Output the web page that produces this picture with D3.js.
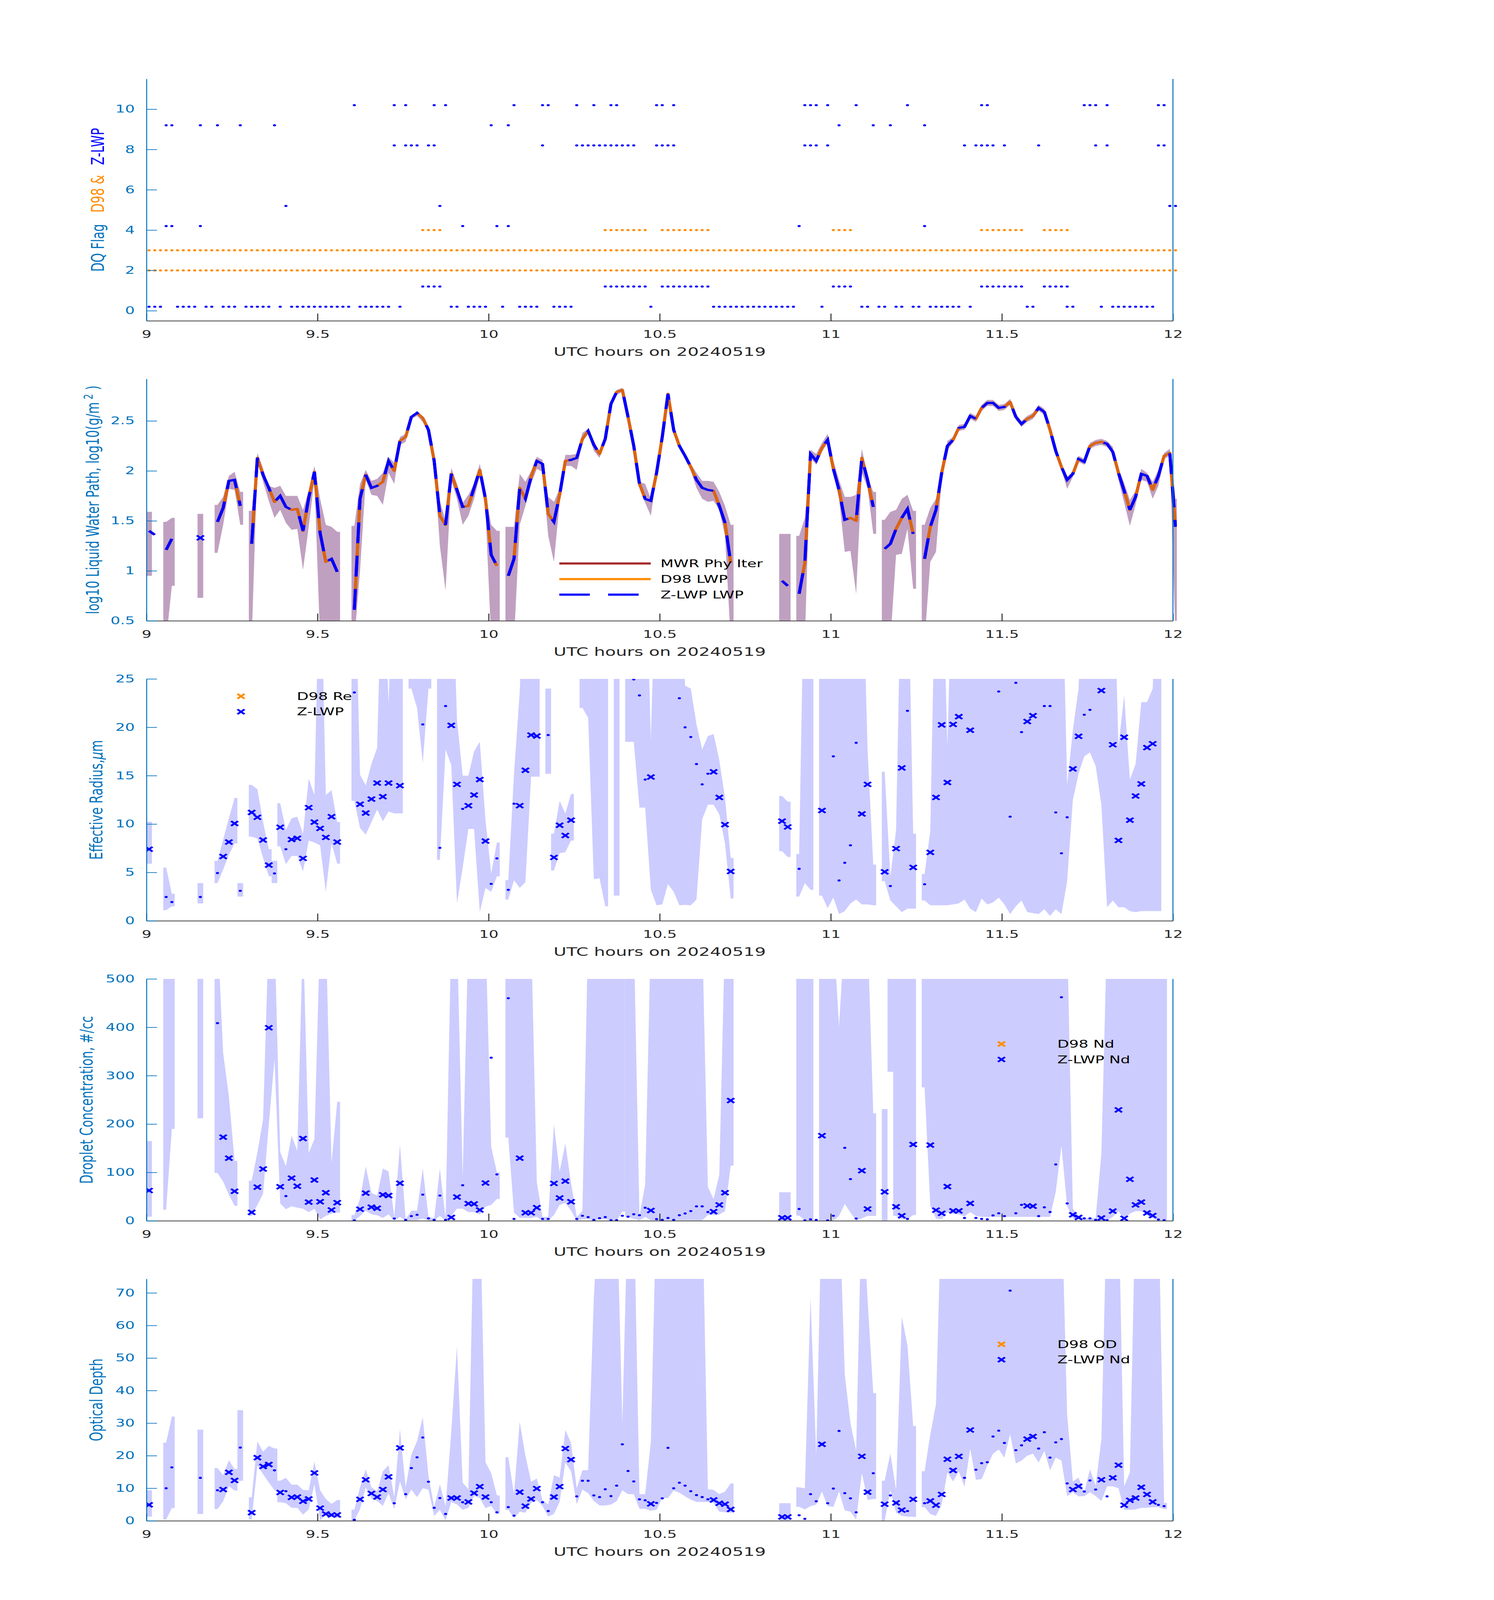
<!DOCTYPE html>
<html lang="en">
<head>
<meta charset="utf-8">
<title>Z-LWP retrievals | 20240519</title>
<script src="https://cdn.jsdelivr.net/npm/d3@7"></script>
<style>
  html, body { margin: 0; padding: 0; background: #fff; overflow: hidden; }
  svg { display: block; }
  text { font-family: "DejaVu Sans", sans-serif; }
</style>
</head>
<body>
<svg id="fig" width="3825" height="6000" viewBox="0 0 3825 6000" preserveAspectRatio="none"></svg>
<script>
// one sample per minute, 9:00 - 12:00 UTC
var nMin = 181, tStart = 9, sampleOffset = 0.45;

/////////////////////
// Panel 1: data quality flags (minute index lists)
var zlwpFlags = [
  {level: 0.2, idx: [0,1,2,5,6,7,8,10,11,13,14,15,17,18,19,20,21,23,25,26,27,28,29,30,31,32,33,34,35,37,38,39,40,41,42,44,
    53,54,56,57,58,59,62,65,66,67,68,71,72,73,74,88,99,100,101,102,103,104,105,106,107,108,109,110,111,112,113,118,
    125,126,128,129,131,132,134,135,137,138,139,140,141,142,144,154,155,161,162,167,169,170,171,172,173,174,175,176]},
  {level: 1.2, idx: [48,49,50,51,80,81,82,83,84,85,86,87,90,91,92,93,94,95,96,97,98,120,121,122,123,
    146,147,148,149,150,151,152,153,157,158,159,160,161]},
  {level: 4.2, idx: [3,4,9,55,61,63,114,136]},
  {level: 5.2, idx: [24,51,179,180]},
  {level: 8.2, idx: [43,45,46,47,49,50,69,75,76,77,78,79,80,81,82,83,84,85,89,90,91,92,115,116,117,119,
    143,145,146,147,148,150,156,166,168,177,178]},
  {level: 9.2, idx: [3,4,9,12,16,22,60,63,121,127,130,136]},
  {level: 10.2, idx: [36,43,45,50,52,64,69,70,75,78,81,82,89,90,92,115,116,117,119,124,133,146,147,164,165,166,168,177,178]}
];
var d98Flags = [
  {level: 2, idx: d3.range(nMin)},
  {level: 3, idx: d3.range(nMin)},
  {level: 4, idx: [48,49,50,51,80,81,82,83,84,85,86,87,90,91,92,93,94,95,96,97,98,120,121,122,123,
    146,147,148,149,150,151,152,153,157,158,159,160,161]}
];

/////////////////////
// Panel 2: log10 LWP  [minute, value, band hi, band lo]
var lwpData = [
  [0,1.40,1.59,0.95],[1,1.36,null,null],[3,1.21,1.49,0.30],[4,1.32,1.53,0.85],[9,1.33,1.57,0.73],
  [12,1.49,1.66,1.18],[13,1.63,1.74,1.46],[14,1.90,1.95,1.82],[15,1.91,1.99,1.81],[16,1.65,1.79,1.46],
  [18,1.27,1.60,0.30],[19,2.13,2.18,2.10],[20,1.96,2.02,1.89],[21,1.83,1.85,1.70],[22,1.69,1.83,1.53],
  [23,1.75,1.85,1.61],[24,1.64,1.75,1.48],[25,1.61,1.75,1.41],[26,1.62,1.75,1.42],[27,1.40,1.61,1.01],
  [28,1.73,1.80,1.44],[29,1.99,2.05,1.91],[30,1.38,1.72,0.30],[31,1.09,1.46,0.30],[32,1.12,1.44,0.30],
  [33,0.99,1.39,0.30],
  [36,0.61,1.45,0.30],[37,1.72,1.87,1.00],[38,1.96,2.01,1.91],[39,1.83,1.90,1.76],[40,1.85,1.92,1.75],
  [41,1.89,1.98,1.66],[42,2.10,2.14,1.98],[43,2.00,2.08,1.87],[44,2.30,2.34,2.26],[45,2.34,2.37,2.29],
  [46,2.54,2.55,2.52],[47,2.58,2.60,2.55],[48,2.53,2.54,2.49],[49,2.41,2.43,2.39],[50,2.10,2.11,2.06],
  [51,1.55,1.70,1.25],[52,1.46,1.50,0.80],[53,1.97,2.03,1.91],[54,1.81,1.87,1.72],[55,1.64,1.68,1.46],
  [56,1.65,1.76,1.55],[57,1.83,1.87,1.72],[58,2.01,2.07,1.95],[59,1.72,1.78,1.61],[60,1.16,1.46,0.30],
  [61,1.05,1.40,0.30],
  [63,0.95,1.44,0.30],[64,1.12,1.44,0.30],[65,1.83,1.97,1.46],[66,1.72,1.89,1.65],[67,1.94,2.00,1.87],
  [68,2.10,2.14,2.02],[69,2.07,2.11,1.99],[70,1.57,1.74,1.35],[71,1.49,1.69,1.09],[72,1.76,1.82,1.68],
  [73,2.10,2.16,2.05],[74,2.11,2.16,2.05],[75,2.13,2.17,2.01],[76,2.32,2.38,2.29],[77,2.40,2.42,2.37],
  [78,2.26,2.30,2.20],[79,2.17,2.19,2.13],[80,2.32,2.35,2.29],[81,2.67,2.70,2.64],[82,2.79,2.81,2.76],
  [83,2.81,2.83,2.79],[84,2.54,2.57,2.51],[85,2.25,2.28,2.21],[86,1.87,1.89,1.83],[87,1.72,1.87,1.68],
  [88,1.70,1.72,1.55],[89,1.98,2.01,1.95],[90,2.34,2.37,2.31],[91,2.77,2.80,2.74],[92,2.41,2.44,2.38],
  [93,2.25,2.28,2.22],[94,2.15,2.18,2.12],[95,2.04,2.07,2.00],[96,1.91,1.98,1.83],[97,1.83,1.90,1.72],
  [98,1.81,1.90,1.69],[99,1.80,1.89,1.70],[100,1.65,1.79,1.61],[101,1.48,1.65,1.35],[102,1.08,1.46,0.30],
  [111,0.90,1.37,0.30],[112,0.85,1.37,0.30],
  [114,0.77,1.35,0.30],[115,1.08,1.53,0.30],[116,2.17,2.21,2.13],[117,2.10,2.17,2.06],[118,2.23,2.28,2.19],
  [119,2.31,2.37,2.28],[120,2.02,2.10,1.98],[121,1.81,1.91,1.72],[122,1.51,1.74,1.19],[123,1.53,1.74,1.20],
  [124,1.50,1.76,0.77],[125,2.13,2.22,1.98],[126,1.91,1.95,1.83],[127,1.64,1.79,1.37],
  [129,1.22,1.51,0.30],[130,1.27,1.59,0.30],[131,1.42,1.61,1.16],[132,1.53,1.72,1.17],[133,1.62,1.76,1.42],
  [134,1.37,1.60,0.82],
  [136,1.12,1.46,0.30],[137,1.44,1.63,1.09],[138,1.61,1.72,1.19],[139,1.98,2.00,1.91],[140,2.25,2.30,2.21],
  [141,2.31,2.34,2.28],[142,2.43,2.46,2.40],[143,2.44,2.47,2.41],[144,2.55,2.58,2.52],[145,2.52,2.55,2.49],
  [146,2.63,2.66,2.60],[147,2.68,2.71,2.65],[148,2.68,2.71,2.65],[149,2.63,2.66,2.60],[150,2.64,2.67,2.61],
  [151,2.69,2.72,2.66],[152,2.54,2.57,2.51],[153,2.47,2.50,2.44],[154,2.52,2.55,2.49],[155,2.55,2.58,2.52],
  [156,2.63,2.66,2.60],[157,2.59,2.62,2.56],[158,2.41,2.44,2.38],[159,2.20,2.23,2.17],[160,2.04,2.07,2.01],
  [161,1.91,1.94,1.82],[162,1.97,2.00,1.94],[163,2.12,2.15,2.09],[164,2.09,2.12,2.06],[165,2.25,2.28,2.22],
  [166,2.28,2.31,2.25],[167,2.29,2.32,2.26],[168,2.27,2.30,2.24],[169,2.19,2.24,2.17],[170,1.98,2.02,1.91],
  [171,1.80,1.88,1.68],[172,1.61,1.71,1.45],[173,1.74,1.80,1.66],[174,1.97,2.02,1.91],[175,1.95,1.98,1.89],
  [176,1.81,1.89,1.72],[177,1.95,2.01,1.85],[178,2.15,2.18,2.12],[179,2.18,2.22,2.15],[180,1.44,1.72,0.30]
];

// minutes where Z-LWP retrieval is good (drawn with x), others drawn as dots
var goodIdx = [0,13,14,15,18,19,20,21,23,25,26,27,28,29,30,31,32,33,37,38,39,40,41,42,44,53,54,56,57,58,59,
  65,66,67,68,71,72,73,74,88,99,100,101,102,111,112,118,125,126,129,131,132,134,137,138,139,140,141,142,144,
  154,155,162,163,167,169,170,171,172,173,174,175,176];

/////////////////////
// Panel 3: effective radius (um)
var reVals = [[0,7.4],[3,2.46],[4,1.94],[9,2.46],[12,4.94],[13,6.65],[14,8.14],[15,10.06],[16,3.10],[18,11.2],
  [19,10.7],[20,8.35],[21,5.76],[22,4.9],[23,9.67],[24,7.4],[25,8.4],[26,8.53],[27,6.45],[28,11.7],[29,10.2],
  [30,9.55],[31,8.62],[32,10.76],[33,8.14],[36,23.6],[37,12.05],[38,11.14],[39,12.58],[40,14.24],[41,12.83],
  [42,14.24],[44,13.97],[48,20.3],[51,7.54],[52,22.2],[53,20.2],[54,14.1],[55,11.57],[56,11.9],[57,13.0],
  [58,14.6],[59,8.24],[60,3.82],[61,6.45],[63,3.2],[64,12.1],[65,11.9],[66,15.56],[67,19.2],[68,19.1],
  [70,19.2],[71,6.55],[72,9.88],[73,8.82],[74,10.4],[85,24.95],[86,23.3],[87,14.6],[88,14.86],[93,23.0],
  [94,20.0],[95,19.0],[96,16.2],[97,14.1],[98,15.2],[99,15.4],[100,12.75],[101,9.94],[102,5.1],[111,10.3],
  [112,9.7],[114,5.37],[118,11.4],[120,17.0],[121,4.17],[122,6.0],[123,7.8],[124,18.4],[125,11.05],
  [126,14.1],[129,5.06],[130,3.59],[131,7.46],[132,15.8],[133,21.7],[134,5.52],[136,3.78],[137,7.07],
  [138,12.75],[139,20.25],[140,14.3],[141,20.3],[142,21.1],[144,19.7],[149,23.7],[151,10.76],[152,24.6],
  [153,19.5],[154,20.6],[155,21.2],[157,22.2],[158,22.2],[159,11.2],[160,6.98],[161,10.7],[162,15.7],
  [163,19.07],[164,21.3],[165,21.8],[167,23.8],[169,18.2],[170,8.31],[171,18.97],[172,10.4],[173,12.9],
  [174,14.15],[175,17.9],[176,18.3]];
var reBand = [[0,10.25,5.9],[3,5.5,1.1],[4,2.8,1.5],[9,3.9,1.8],[12,6.2,3.9],[13,8.4,5.3],[14,10.6,6.8],
  [15,12.7,8.0],[16,3.9,2.5],[18,14.05,8.7],[19,13.6,8.5],[20,10.2,6.5],[21,7.4,4.6],[22,6.2,3.9],
  [23,12.15,7.7],[24,9.4,5.85],[25,10.6,6.7],[26,10.75,6.7],[27,9.0,5.1],[28,14.7,8.3],[29,13.0,8.1],
  [30,40,7.8],[31,13.0,3.0],[32,13.5,8.0],[33,10.2,5.9],[36,40,12.4],[37,15.1,9.6],[38,14.0,8.9],
  [39,16.2,10.2],[40,17.9,11.5],[41,40,10.3],[42,22.4,11.3],[43,40,11.1],[44,40,11.1],[46,40,24],
  [47,40,22],[48,40,16.3],[49,40,24],[51,40,6.3],[52,40,17.7],[53,40,16.1],[54,20.8,1.8],[55,15,5.5],
  [56,15,9.5],[57,17.5,9.5],[58,18.5,0.9],[59,10.4,3.4],[60,4.9,3.0],[61,8.1,4.6],[63,4.2,2.2],
  [64,15.2,4.2],[65,23.6,3.4],[66,40,4.0],[67,40,14.9],[68,40,14.9],[70,24,15.2],[71,9.0,5.2],
  [72,12.4,7.0],[73,11.1,7.1],[74,13.1,8.3],[76,40,22],[77,40,21],[78,40,4.3],[79,40,4.4],[80,40,1.5],
  [82,40,2.6],[84,40,18.5],[85,40,18.5],[86,40,11.7],[87,40,11.7],[88,18.7,3.2],[89,40,1.6],[90,40,1.7],
  [91,40,3.8],[92,40,3.0],[93,40,1.6],[94,24.3,1.65],[95,24,1.6],[96,20.3,2.2],[97,17.7,10.5],
  [98,19.1,12.0],[99,19.3,12.0],[100,16.6,11],[101,12.7,8],[102,6.5,2.3],[111,12.9,7.2],[112,12.3,6.6],
  [114,6.9,2.5],[115,40,3.9],[116,40,3.2],[118,40,2.6],[119,40,1.3],[120,40,2.4],[121,40,0.7],
  [122,40,1.0],[123,40,1.8],[124,40,2.2],[125,40,1.7],[126,17.7,1.7],[127,5.8,1.6],[129,15.4,4.1],
  [130,4.55,2.1],[131,9.4,1.5],[132,40,0.9],[133,40,1.26],[134,9.0,1.26],[136,4.84,2.1],[137,9.3,1.6],
  [138,40,1.6],[139,40,1.6],[140,18.1,1.6],[141,40,1.7],[142,40,1.8],[143,40,2.2],[144,40,1.26],
  [145,40,0.9],[146,40,2.3],[147,40,1.7],[148,40,1.9],[149,40,2.4],[150,40,1.7],[151,40,0.7],
  [152,40,1.5],[153,40,2.1],[154,40,0.9],[155,40,0.8],[156,40,0.7],[157,40,1.2],[158,40,0.5],
  [159,40,1.2],[160,40,0.7],[161,14.05,4.1],[162,19.7,12.5],[163,24,15.2],[164,40,17.0],[165,40,17.4],
  [166,40,16],[167,40,12],[168,40,1.4],[169,40,2.1],[170,18,1.4],[171,23.3,1.4],[172,14.6,1.0],
  [173,16.2,0.9],[174,22.6,1.0],[175,22.6,1.0],[176,24,1.0],[177,40,1.0]];
var reBreaks = [16, 22, 23, 71];

/////////////////////
// Panel 4: droplet concentration (#/cc)
var ndVals = [[0,62.6],[12,408.7],[13,172.9],[14,129.5],[15,61.1],[18,17.4],[19,69.6],[20,107.1],[21,399.1],
  [23,70.4],[24,51.0],[25,88.2],[26,71.5],[27,170.1],[28,38.7],[29,84.3],[30,39.4],[31,58.0],[32,22.4],
  [33,37.5],[36,0.8],[37,24.0],[38,57.2],[39,28.2],[40,25.9],[41,53.8],[42,52.2],[43,4.6],[44,77.7],
  [45,1.9],[46,9.7],[47,12.4],[48,54.1],[49,5.0],[50,1.9],[51,52.2],[52,1.9],[53,7.0],[54,49.1],[55,73.5],
  [56,35.6],[57,34.8],[58,22.4],[59,78.1],[60,337.2],[61,95.9],[63,460.2],[64,3.9],[65,129.5],[66,16.6],
  [67,16.6],[68,27.1],[69,3.9],[70,3.9],[71,77.3],[72,47.2],[73,82.0],[74,39.4],[75,3.9],[76,10.4],
  [77,7.7],[78,1.9],[79,5.4],[80,7.7],[81,1.2],[82,1.2],[83,10.4],[84,8.5],[85,13.5],[86,11.6],[87,27.1],
  [88,21.3],[89,3.5],[90,1.9],[91,5.8],[92,1.9],[93,11.6],[94,15.1],[95,20.1],[96,29.8],[97,29.8],
  [98,18.2],[99,18.9],[100,32.9],[101,58.0],[102,248.6],[111,6.2],[112,6.2],[114,24.4],[115,0.8],
  [116,3.1],[117,1.9],[118,176],[119,0.8],[120,10.4],[122,150.8],[123,86.2],[124,4.6],[125,103.6],
  [126,24.4],[129,59.9],[131,29.0],[132,10.4],[133,3.9],[134,157.8],[137,156.6],[138,22.0],[139,15.5],
  [140,70.8],[141,20.5],[142,20.5],[143,5.8],[144,36.0],[145,5.8],[146,3.9],[147,3.1],[148,11.2],
  [149,15.5],[150,9.7],[152,15.5],[153,32.9],[154,30.9],[155,30.2],[156,9.7],[157,27.8],[158,18.2],
  [159,116.4],[160,462.1],[161,36.0],[162,12.4],[163,7.0],[164,5.0],[165,5.0],[166,1.9],[167,5.8],
  [168,1.2],[169,20.1],[170,229.3],[171,5.0],[172,85.8],[173,32.9],[174,38.7],[175,16.2],[176,10.8],
  [177,2.7],[178,1.2]];
var ndBand = [[0,165,8.5],[3,600,23],[4,600,190],[9,600,212],[12,600,99],[13,347,81],[14,257,54],
  [15,124,31],[18,83,9.7],[19,141,33],[20,210,56],[21,600,199],[22,600,334],[23,142,36],[24,113,24],
  [25,176,30],[26,145,27],[27,600,25],[28,140,18],[29,169,25],[30,600,3],[31,600,10],[32,120,15],
  [33,246,17],[36,12,0.5],[37,46,10],[38,112,21],[39,58,13.5],[40,52,11.6],[41,108,5.8],[42,102,13.5],
  [43,8,0.5],[44,157,8],[45,3,0.5],[46,21,1],[47,21,1],[48,108,5],[49,8,0.5],[50,5,0.5],[51,108,10],
  [52,5,0.5],[53,600,10],[54,600,25],[55,91,25],[56,600,18],[57,600,18],[58,600,13],[59,600,29],
  [60,153,33],[61,100,45],[63,600,172],[64,600,17],[65,600,6],[66,600,6],[67,600,6],[68,80,8],[69,8,1],
  [70,8,1],[71,199,12],[72,102,33],[73,160,37],[74,78,21],[75,8,0.5],[76,21,3],[77,600,3],[78,600,1],
  [79,600,3],[80,600,3],[81,600,1],[82,600,0.5],[83,600,19],[84,600,8],[85,600,4],[86,10,1],[87,75,8],
  [88,600,1],[89,600,1],[90,600,1],[91,600,1],[92,600,1],[93,600,1],[94,600,1],[95,600,1],[96,600,1],
  [97,600,1],[98,70,12],[99,45,12],[100,95,13],[101,600,20],[102,600,114],[111,59,0.5],[112,59,0.5],
  [114,600,11],[115,600,0.5],[116,600,0.5],[118,600,0.5],[119,600,0.5],[120,600,0.5],[121,402,10],
  [122,600,35],[123,600,17],[124,600,0.5],[125,600,5],[126,600,10],[127,222,10],[129,231,0.5],
  [130,600,308],[131,600,10],[132,600,3],[133,600,3],[134,600,12],[136,600,276],[137,600,31],[138,600,5],
  [139,600,3],[140,600,18],[141,600,14],[142,600,13],[143,600,9],[144,600,18],[145,600,10],[146,600,8],
  [147,600,8],[148,600,8],[149,600,8],[150,600,8],[151,600,8],[152,600,8],[153,600,8],[154,600,8],
  [155,600,8],[156,600,8],[157,600,8],[158,600,8],[159,600,60],[160,600,155],[161,600,30],[162,25,5],
  [163,10,2],[164,5,0.5],[165,5,0.5],[166,5,0.5],[167,139,0.5],[168,600,1],[169,600,8],[170,600,20],
  [171,600,2],[172,600,15],[173,600,20],[174,600,20],[175,600,12],[176,600,5],[177,600,1],[178,600,0.5]];
var ndBreaks = [84, 130, 131];

/////////////////////
// Panel 5: optical depth
var odVals = [[0,4.9],[3,10.0],[4,16.4],[9,13.2],[12,9.4],[13,9.6],[14,14.9],[15,12.4],[16,22.5],[18,2.5],
  [19,19.4],[20,16.7],[21,17.3],[22,15.5],[23,8.7],[24,9.1],[25,7.2],[26,7.3],[27,6.0],[28,6.7],[29,14.7],
  [30,3.9],[31,2.1],[32,1.8],[33,1.8],[36,0.3],[37,6.6],[38,12.6],[39,8.4],[40,7.3],[41,9.6],[42,13.5],
  [43,5.4],[44,22.4],[45,8.2],[46,16.2],[47,19.5],[48,25.6],[49,12.0],[50,4.0],[51,7.0],[52,2.1],[53,7.0],
  [54,7.0],[55,5.7],[56,5.8],[57,8.5],[58,10.5],[59,7.3],[60,5.7],[61,2.6],[63,4.2],[64,1.6],[65,8.8],
  [66,4.5],[67,6.7],[68,9.9],[69,5.7],[70,3.0],[71,7.3],[72,10.5],[73,22.2],[74,18.8],[75,7.5],[76,12.3],
  [77,12.3],[78,7.8],[79,7.3],[80,9.7],[81,7.6],[82,10.8],[83,23.5],[84,15.3],[85,12.1],[86,6.6],[87,6.3],
  [88,5.2],[89,5.5],[90,6.9],[91,22.4],[92,10.0],[93,11.7],[94,10.8],[95,9.1],[96,7.9],[97,7.3],[98,6.6],
  [99,6.4],[100,5.4],[101,5.1],[102,3.5],[111,1.2],[112,1.2],[114,1.7],[115,0.6],[116,8.2],[117,6.0],
  [118,23.5],[119,5.4],[120,9.9],[121,27.6],[122,8.5],[123,6.9],[124,2.6],[125,19.8],[126,8.8],[127,14.6],
  [129,5.1],[130,7.8],[131,5.5],[132,3.3],[133,3.0],[134,6.6],[136,5.4],[137,6.1],[138,4.8],[139,8.1],
  [140,18.9],[141,15.5],[142,19.8],[143,13.2],[144,27.9],[145,15.7],[146,17.7],[147,18.0],[148,25.9],
  [149,27.7],[150,23.9],[151,70.7],[152,21.7],[153,23.2],[154,25.1],[155,25.9],[156,22.2],[157,27.2],
  [158,19.4],[159,24.1],[160,25.1],[161,11.5],[162,9.6],[163,10.6],[164,9.0],[165,12.4],[166,9.6],
  [167,12.6],[168,7.5],[169,13.2],[170,17.1],[171,4.8],[172,6.3],[173,7.0],[174,10.3],[175,8.1],
  [176,5.8],[177,4.9],[178,4.5]];
var odBand = [[0,9.4,1.3],[3,24,0.4],[4,32,3.9],[9,28,2.1],[12,16.2,3.6],[13,14,6],[14,18.6,10.6],
  [15,15.9,9.3],[16,34,12.3],[18,7.2,0.4],[19,24.4,17],[20,21.2,14.3],[21,23,11.8],[22,22.2,9.4],
  [23,12.3,5.7],[24,13.2,5.4],[25,11.1,4.0],[26,11.1,4.0],[27,9.5,1.9],[28,9.4,3.5],[29,18.2,11.2],
  [30,9.4,0.1],[31,6.7,2.1],[32,5.2,1.0],[33,6.4,0.9],[36,3.4,0],[37,10.3,3.6],[38,15.8,10.3],
  [39,10.3,6.8],[40,9.1,6.1],[41,15.2,4.6],[42,17.1,8.5],[43,7.3,3.6],[44,28.1,12.1],[45,10.3,6.6],
  [46,20.3,9.6],[47,24.5,7.3],[48,31.8,10],[49,13.9,9.6],[50,4.3,1.5],[51,11.2,3.4],[52,4.5,0.1],
  [53,27.3,5.8],[54,53.6,5.0],[55,11.7,3.4],[56,9.7,4.0],[57,100,7.6],[58,100,7.0],[59,18,3.9],
  [60,14.6,4.6],[61,7.8,2.1],[63,19.5,3.4],[64,8.2,0.8],[65,30.4,2.8],[66,20,2.5],[67,12,5.5],
  [68,13,6.4],[69,6.4,4.5],[70,5.0,1.3],[71,14,2.1],[72,13.3,5.8],[73,27.9,17.9],[74,23.9,15.2],
  [75,10,5.1],[76,15.5,9.6],[77,15.6,8.5],[78,68.7,6.1],[79,100,4.7],[80,100,4.7],[81,100,5],[82,100,6],
  [83,29.9,9.4],[84,100,8.2],[85,100,8.2],[86,8.2,3.7],[87,8.2,3.7],[88,24.3,3.1],[89,100,3.4],
  [90,100,7],[91,100,7],[92,100,9.3],[93,100,8.6],[94,100,7.5],[95,100,6.5],[96,100,5.8],[97,100,5.8],
  [98,9.7,5.8],[99,9.5,5.5],[100,8.2,2.8],[101,9,2.6],[102,11.5,2.5],[111,5.4,0.1],[112,5.4,0.1],
  [114,10.3,4.3],[115,10,3.5],[116,68.7,4.5],[117,20,5],[118,100,9.0],[119,100,4.5],[120,100,4.3],
  [121,100,9],[122,45,3.2],[123,30,2.8],[124,21.5,0.4],[125,100,14.7],[126,68,6.4],[127,39.2,6.7],
  [129,12.3,0],[130,20.7,9.4],[131,9.4,2.5],[132,62.7,1.5],[133,53.8,1.3],[134,29.1,1.2],[136,15.2,4.2],
  [137,26.5,2.1],[138,35.9,1.5],[139,100,5],[140,100,14.9],[141,100,12.1],[142,100,15.2],[143,100,10.5],
  [144,100,22.1],[145,100,12.6],[146,100,12.8],[147,100,17],[148,100,20.6],[149,100,21.9],[150,100,19.4],
  [151,100,26.6],[152,100,17.6],[153,100,18.5],[154,100,20],[155,100,20.6],[156,100,17.9],[157,100,21.5],
  [158,100,15.5],[159,100,19.4],[160,100,18.5],[161,32.7,7.6],[162,12.1,8.8],[163,13.3,7.5],[164,8.8,7.6],
  [165,15.8,8.8],[166,10.9,7.6],[167,25,6.1],[168,100,10.6],[169,100,10.6],[170,100,10],[171,10.6,3.4],
  [172,14.9,3.4],[173,100,3.5],[174,100,4.0],[175,100,4.0],[176,100,4.2],[177,100,4.2],[178,5.5,3.6]];
var odBreaks = [16, 23];

/////////////////////
// layout (drawn in a 3825 x 6000 frame)
var svg = d3.select("#fig");
var left = 375, right = 3003, panelH = 907;
var tops = [296, 1421, 2546, 3671, 4796];
var axisBlue = "#0072BD", dark = "#262626", zBlue = "#0000ff", d98Orange = "#ff8c00", mwrRed = "#a52a2a";
var tickFont = 39, labelFont = 45;

// fit the frame to the viewport the page really gets
var vw = document.documentElement.clientWidth || window.innerWidth || 3825;
var vh = document.documentElement.clientHeight || window.innerHeight || 6000;
if (vw < 500) vw = 3825;
if (vh < 500) vh = 6000;
svg.attr("width", vw).attr("height", vh);

var x = d3.scaleLinear().domain([9, 12]).range([left, right]);
var xTicks = [9, 9.5, 10, 10.5, 11, 11.5, 12];
var halfMin = 0.5 / 60;
function tOf(k) { return tStart + (k + sampleOffset) / 60; }

var isGood = {};
goodIdx.forEach(function (k) { isGood[k] = true; });

function makePanel(i, domain, ticks) {
  var top = tops[i], bottom = top + panelH;
  var y = d3.scaleLinear().domain(domain).range([bottom, top]);
  var g = svg.append("g");
  svg.append("clipPath").attr("id", "clip" + i)
    .append("rect").attr("x", left).attr("y", top).attr("width", right - left + 10).attr("height", panelH);
  var plot = g.append("g").attr("clip-path", "url(#clip" + i + ")");
  return {g: g, plot: plot, y: y, top: top, bottom: bottom, ticks: ticks};
}

function drawAxes(p) {
  var xa = p.g.append("g").attr("transform", "translate(0," + p.bottom + ")")
    .call(d3.axisBottom(x).tickValues(xTicks).tickFormat(function (d) { return String(d); })
      .tickSizeInner(-27).tickSizeOuter(0).tickPadding(37));
  xa.selectAll("line").attr("stroke", dark).attr("stroke-width", 2.5);
  xa.select(".domain").attr("stroke", dark).attr("stroke-width", 2.5);
  xa.selectAll("text").attr("fill", dark).style("font-size", tickFont + "px");

  var ya = p.g.append("g").attr("transform", "translate(" + left + ",0)")
    .call(d3.axisLeft(p.y).tickValues(p.ticks).tickFormat(function (d) { return String(d); })
      .tickSizeInner(-27).tickSizeOuter(0).tickPadding(30));
  ya.selectAll("line").attr("stroke", axisBlue).attr("stroke-width", 2.5);
  ya.select(".domain").attr("stroke", axisBlue).attr("stroke-width", 2.5);
  ya.selectAll("text").attr("fill", axisBlue).style("font-size", tickFont + "px");

  // right-hand frame line
  p.g.append("line").attr("x1", right).attr("x2", right).attr("y1", p.top).attr("y2", p.bottom)
    .attr("stroke", axisBlue).attr("stroke-width", 2.5);

  p.g.append("text").attr("x", (left + right) / 2).attr("y", p.bottom + 131)
    .attr("text-anchor", "middle").attr("fill", dark).style("font-size", labelFont + "px")
    .text("UTC hours on 20240519");
}

function yLabel(p, xBase) {
  return p.g.append("text")
    .attr("transform", "translate(" + xBase + "," + (p.top + p.bottom) / 2 + ") rotate(-90)")
    .attr("text-anchor", "middle").attr("fill", axisBlue).style("font-size", labelFont + "px");
}

function bandRuns(triples, breaks) {
  var runs = [], cur = null, prev = -9;
  triples.forEach(function (d) {
    if (d[1] == null) return;
    if (!cur || d[0] !== prev + 1 || breaks.indexOf(d[0]) >= 0) { cur = []; runs.push(cur); }
    cur.push(d); prev = d[0];
  });
  return runs.map(function (run) {
    var pts = run.map(function (d) { return {t: tOf(d[0]), hi: d[1], lo: d[2]}; });
    var a = run[0], b = run[run.length - 1];
    pts.unshift({t: tOf(a[0]) - halfMin, hi: a[1], lo: a[2]});
    pts.push({t: tOf(b[0]) + halfMin, hi: b[1], lo: b[2]});
    return pts;
  });
}

function drawBand(p, triples, breaks, color) {
  var area = d3.area().x(function (d) { return x(d.t); })
    .y0(function (d) { return p.y(d.lo); }).y1(function (d) { return p.y(d.hi); });
  p.plot.selectAll(null).data(bandRuns(triples, breaks)).enter().append("path")
    .attr("d", area).attr("fill", color).attr("stroke", "none");
}

var crossPath = "M-9,-9L9,9M-9,9L9,-9";
function cross(sel, cx, cy, color) {
  sel.append("path").attr("d", crossPath)
    .attr("transform", "translate(" + cx + "," + cy + ")")
    .attr("stroke", color).attr("stroke-width", 6).attr("fill", "none");
}

function drawRetrieval(p, vals) {
  var dots = vals.filter(function (d) { return !isGood[d[0]]; });
  var good = vals.filter(function (d) { return isGood[d[0]]; });
  p.plot.selectAll(null).data(dots).enter().append("circle")
    .attr("cx", function (d) { return x(tOf(d[0])); })
    .attr("cy", function (d) { return p.y(d[1]); })
    .attr("r", 4).attr("fill", zBlue);
  good.forEach(function (d) { cross(p.plot, x(tOf(d[0])), p.y(d[1]), zBlue); });
}

function crossLegend(p, lx, ly, labels) {
  cross(p.g, lx, ly, d98Orange);
  cross(p.g, lx, ly + 58, zBlue);
  labels.forEach(function (s, j) {
    p.g.append("text").attr("x", lx + 143).attr("y", ly + j * 58).attr("dy", "0.35em")
      .attr("fill", "#000").style("font-size", tickFont + "px").text(s);
  });
}

/////////////////////
// Panel 1
var p1 = makePanel(0, [-0.5, 11.5], [0, 2, 4, 6, 8, 10]);
d98Flags.forEach(function (row) {
  p1.g.selectAll(null).data(row.idx).enter().append("circle")
    .attr("cx", function (k) { return x(tOf(k)); }).attr("cy", p1.y(row.level))
    .attr("r", 4).attr("fill", d98Orange);
});
zlwpFlags.forEach(function (row) {
  p1.g.selectAll(null).data(row.idx).enter().append("circle")
    .attr("cx", function (k) { return x(tOf(k)); }).attr("cy", p1.y(row.level))
    .attr("r", 4).attr("fill", zBlue);
});
drawAxes(p1);
var l1 = yLabel(p1, 266);
l1.append("tspan").attr("fill", axisBlue).text("DQ Flag");
l1.append("tspan").attr("fill", d98Orange).attr("dx", 43).text("D98 &");
l1.append("tspan").attr("fill", zBlue).attr("dx", 37).text("Z-LWP");

/////////////////////
// Panel 2
var p2 = makePanel(1, [0.5, 2.92], [0.5, 1, 1.5, 2, 2.5]);
drawBand(p2, lwpData.map(function (d) { return [d[0], d[2], d[3]]; }), [], "#c0a0c0");
var lwpByMin = new Array(nMin).fill(null);
lwpData.forEach(function (d) { lwpByMin[d[0]] = d[1]; });
var lwpSeries = lwpByMin.map(function (v, k) { return {t: tOf(k), v: v}; });
var lwpLine = d3.line().defined(function (d) { return d.v != null; })
  .x(function (d) { return x(d.t); }).y(function (d) { return p2.y(d.v); });
p2.plot.append("path").attr("d", lwpLine(lwpSeries)).attr("fill", "none")
  .attr("stroke", mwrRed).attr("stroke-width", 8).attr("stroke-linejoin", "round");
p2.plot.append("path").attr("d", lwpLine(lwpSeries)).attr("fill", "none")
  .attr("stroke", d98Orange).attr("stroke-opacity", 0.6).attr("stroke-width", 8).attr("stroke-linejoin", "round");
p2.plot.append("path").attr("d", lwpLine(lwpSeries)).attr("fill", "none")
  .attr("stroke", zBlue).attr("stroke-width", 8).attr("stroke-dasharray", "78,47");
lwpByMin.forEach(function (v, k) {
  var prev = k > 0 ? lwpByMin[k - 1] : null, next = k < nMin - 1 ? lwpByMin[k + 1] : null;
  if (v != null && prev == null && next == null) cross(p2.plot, x(tOf(k)), p2.y(v), zBlue);
});
drawAxes(p2);
var l2 = yLabel(p2, 253);
l2.append("tspan").text("log10 Liquid Water Path, log10(g/m");
l2.append("tspan").attr("dy", -16).style("font-size", "32px").text(" 2");
l2.append("tspan").attr("dy", 16).text(" )");
var lwpLegend = [
  {name: "MWR Phy Iter", color: mwrRed, dash: null},
  {name: "D98 LWP", color: d98Orange, dash: null},
  {name: "Z-LWP LWP", color: zBlue, dash: "78,47"}
];
lwpLegend.forEach(function (d, j) {
  var ly = p2.top + 692 + j * 58.5;
  p2.g.append("line").attr("x1", 1432).attr("x2", 1666).attr("y1", ly).attr("y2", ly)
    .attr("stroke", d.color).attr("stroke-width", 8).attr("stroke-dasharray", d.dash);
  p2.g.append("text").attr("x", 1691).attr("y", ly).attr("dy", "0.35em")
    .attr("fill", "#000").style("font-size", tickFont + "px").text(d.name);
});

/////////////////////
// Panel 3
var p3 = makePanel(2, [0, 25], [0, 5, 10, 15, 20, 25]);
drawBand(p3, reBand, reBreaks, "#ccccff");
drawRetrieval(p3, reVals);
drawAxes(p3);
var l3 = yLabel(p3, 262);
l3.append("tspan").text("Effective Radius,");
l3.append("tspan").style("font-style", "italic").text("\u03bc");
l3.append("tspan").text("m");
crossLegend(p3, 617, p3.top + 65, ["D98 Re", "Z-LWP"]);

/////////////////////
// Panel 4
var p4 = makePanel(3, [0, 500], [0, 100, 200, 300, 400, 500]);
drawBand(p4, ndBand, ndBreaks, "#ccccff");
drawRetrieval(p4, ndVals);
drawAxes(p4);
yLabel(p4, 237).text("Droplet Concentration, #/cc");
crossLegend(p4, 2564, p4.top + 244, ["D98 Nd", "Z-LWP Nd"]);

/////////////////////
// Panel 5
var p5 = makePanel(4, [0, 74.3], [0, 10, 20, 30, 40, 50, 60, 70]);
drawBand(p5, odBand, odBreaks, "#ccccff");
drawRetrieval(p5, odVals);
drawAxes(p5);
yLabel(p5, 262).text("Optical Depth");
crossLegend(p5, 2564, p5.top + 245, ["D98 OD", "Z-LWP Nd"]);
</script>
</body>
</html>
